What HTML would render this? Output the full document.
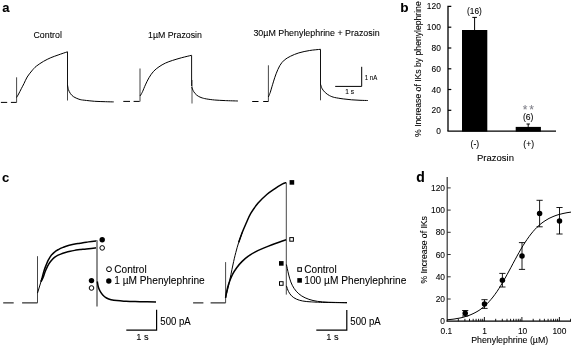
<!DOCTYPE html>
<html><head><meta charset="utf-8"><title>Figure</title>
<style>
html,body{margin:0;padding:0;background:#fff;}
svg{display:block;font-family:"Liberation Sans",Arial,sans-serif;fill:#000;}
.t{fill:none;stroke:#000;stroke-width:1.0;stroke-linejoin:round;stroke-linecap:butt}
.k{fill:none;stroke:#000;stroke-width:1.5;stroke-linejoin:round}
.s{fill:none;stroke:#333;stroke-width:0.9}
.g{fill:none;stroke:#777;stroke-width:1}
.ax{fill:none;stroke:#000;stroke-width:1}
.b{font-weight:bold;font-size:13.5px}
text{stroke:#000;stroke-width:0.08px}
</style></head><body>
<svg width="571" height="347" viewBox="0 0 571 347">
<rect width="571" height="347" fill="#fff"/>

<text class="b" x="2.2" y="12" style="font-size:13px">a</text>
<text class="b" x="400.3" y="11.6" style="font-size:13.6px">b</text>
<text class="b" x="1.9" y="181.7" style="font-size:13px">c</text>
<text class="b" x="416.2" y="182.3" style="font-size:14px">d</text>
<text x="33.5" y="37.5" font-size="8.8">Control</text>
<text x="148" y="37.6" font-size="8.8">1µM Prazosin</text>
<text x="253.4" y="35.7" font-size="8.9">30µM Phenylephrine + Prazosin</text>
<path class="t" d="M0.9,102.4H7.2M10.9,102.4H16.6"/>
<path class="s" d="M16.6,77.3V102.4"/>
<path class="t" d="M16.6,97.5C16.9,96.9 17.8,95.5 18.6,94.0C19.4,92.5 20.4,90.5 21.3,88.7C22.2,87.0 23.0,85.5 24.0,83.5C25.0,81.5 25.9,79.1 27.2,77.0C28.5,74.9 30.3,72.7 31.8,70.9C33.3,69.1 34.3,67.8 36.3,66.2C38.3,64.6 41.2,62.7 43.6,61.3C46.0,59.9 48.4,58.8 50.8,57.7C53.2,56.7 55.3,56.0 58.1,55.0C60.9,54.0 65.9,52.3 67.5,51.8"/>
<path class="s" style="stroke:#111;stroke-width:1" d="M67.5,51.8V85.5"/>
<path class="s" d="M67.5,85V100.5"/>
<path class="t" d="M67.5,85.0C67.7,85.8 67.9,88.0 68.4,89.5C68.9,91.0 69.6,92.5 70.5,93.7C71.4,94.9 72.3,95.9 73.7,96.8C75.1,97.7 77.2,98.6 78.9,99.2C80.7,99.8 81.6,99.9 84.2,100.2C86.8,100.5 91.2,101.0 94.7,101.3C98.2,101.5 102.1,101.6 105.3,101.7C108.5,101.8 112.3,101.9 113.7,101.9"/>
<path class="t" d="M123.3,101.4H130M133.6,101.4H140"/>
<path class="g" style="stroke-width:2;stroke:#a0a0a0" d="M140,68.6V101.4"/>
<path class="t" d="M140.0,96.0C140.2,95.7 140.9,94.8 141.3,94.0C141.8,93.2 142.0,92.8 142.7,91.3C143.4,89.8 144.3,87.2 145.4,84.9C146.5,82.6 147.6,80.0 149.0,77.7C150.4,75.4 151.9,73.1 153.6,71.3C155.3,69.5 157.0,68.2 159.0,66.8C161.0,65.4 163.1,64.2 165.4,63.1C167.7,62.0 169.9,61.3 172.6,60.4C175.3,59.5 178.5,58.6 181.7,57.7C184.8,56.9 189.9,55.7 191.5,55.3"/>
<path class="g" style="stroke-width:2;stroke:#a8a8a8" d="M192,80V103.6"/>
<path class="s" style="stroke:#111;stroke-width:1" d="M191.6,55.3V86"/>
<path class="t" d="M191.7,87.0C192.0,87.8 192.8,90.2 193.7,91.6C194.5,93.0 195.6,94.2 196.8,95.2C198.0,96.2 199.4,96.9 201.0,97.5C202.6,98.1 204.0,98.5 206.3,98.9C208.6,99.3 211.5,99.7 214.7,100.0C217.9,100.3 221.4,100.4 225.3,100.6C229.2,100.8 235.8,100.9 237.9,101.0"/>
<path class="t" d="M252.2,101.5H258.5M263.2,101.5H268.4"/>
<path class="s" d="M268.4,65.3V101.5"/>
<path class="t" d="M268.4,97.0C268.6,96.5 269.1,95.3 269.5,94.3C269.9,93.3 270.1,93.1 270.7,91.0C271.3,88.9 272.5,84.8 273.4,81.9C274.3,79.0 275.0,76.5 276.1,73.8C277.2,71.1 278.4,67.9 279.8,65.6C281.2,63.3 282.5,61.7 284.3,60.1C286.1,58.5 288.2,57.4 290.6,56.2C293.0,55.0 295.6,53.9 298.8,52.9C302.0,51.9 306.1,51.1 309.7,50.5C313.3,49.9 318.7,49.5 320.5,49.3"/>
<path class="s" style="stroke:#111;stroke-width:1" d="M320.5,49.3V85"/>
<path class="s" d="M320.5,84V100.3"/>
<path class="t" d="M320.5,84.2C320.8,85.0 321.4,87.4 322.2,88.8C323.0,90.2 324.1,91.5 325.3,92.6C326.5,93.7 327.9,94.8 329.5,95.6C331.1,96.4 332.4,97.0 334.7,97.5C337.0,98.0 340.4,98.5 343.2,98.9C346.0,99.3 348.8,99.6 351.6,99.8C354.4,100.0 357.3,100.2 360.0,100.3C362.7,100.4 366.5,100.5 367.8,100.5"/>
<path class="ax" d="M335.2,86.4H361.7V66.8"/>
<text x="364.7" y="79.7" font-size="6.6" textLength="12.5" lengthAdjust="spacingAndGlyphs">1 nA</text>
<text x="345.3" y="93.8" font-size="6.6">1 s</text>
<path class="ax" style="stroke-width:1.3" d="M451.3,6.4H448V131.1"/>
<path class="ax" style="stroke-width:1.3" d="M447.4,131.1H556"/>
<text x="440.8" y="134.1" font-size="8.4" text-anchor="end">0</text>
<path class="ax" style="stroke-width:1.2" d="M448,110.3H451.3"/>
<text x="440.8" y="113.3" font-size="8.4" text-anchor="end">20</text>
<path class="ax" style="stroke-width:1.2" d="M448,89.5H451.3"/>
<text x="440.8" y="92.5" font-size="8.4" text-anchor="end">40</text>
<path class="ax" style="stroke-width:1.2" d="M448,68.8H451.3"/>
<text x="440.8" y="71.8" font-size="8.4" text-anchor="end">60</text>
<path class="ax" style="stroke-width:1.2" d="M448,48.0H451.3"/>
<text x="440.8" y="51.0" font-size="8.4" text-anchor="end">80</text>
<path class="ax" style="stroke-width:1.2" d="M448,27.2H451.3"/>
<text x="440.8" y="30.2" font-size="8.4" text-anchor="end">100</text>
<text x="440.8" y="9.4" font-size="8.4" text-anchor="end">120</text>
<text transform="translate(421.3,136.9) rotate(-90)" font-size="8.6" textLength="135.6" lengthAdjust="spacingAndGlyphs">% Increase of IKs by phenylephrine</text>
<rect x="462" y="30" width="25.3" height="101.6"/>
<path class="ax" d="M474.6,30V17.4M472.3,17.4H476.9"/>
<text x="474.4" y="13.6" font-size="8.3" text-anchor="middle">(16)</text>
<rect x="515.7" y="126.9" width="25.2" height="4.7"/>
<path class="ax" d="M528.2,126.9V124M526.5,124H529.9"/>
<text x="528.2" y="119.7" font-size="8.6" text-anchor="middle">(6)</text>
<text x="529.3" y="113.8" font-size="12" letter-spacing="2" text-anchor="middle" fill="#80808a" style="stroke:#80808a">**</text>
<text x="474.9" y="147.4" font-size="8.6" text-anchor="middle">(-)</text>
<text x="528.7" y="147.4" font-size="8.6" text-anchor="middle">(+)</text>
<text x="495.5" y="160.9" font-size="9.5" text-anchor="middle">Prazosin</text>
<path class="t" d="M3.2,302.9H13.7M22.1,302.9H37.5"/>
<path class="s" d="M37.5,256.2V302.9"/>
<path class="t" d="M37.5,293.1L42.1,278"/>
<path class="k" d="M41.0,281.6C41.2,281.0 41.6,279.7 42.1,278.0C42.6,276.3 43.1,273.5 43.8,271.4C44.5,269.2 45.3,267.0 46.1,265.1C46.9,263.2 47.5,261.5 48.4,259.9C49.3,258.3 50.2,256.6 51.3,255.3C52.4,254.0 53.5,252.8 54.8,251.8C56.0,250.8 57.4,250.1 58.8,249.3C60.2,248.5 61.7,247.9 63.4,247.2C65.1,246.5 67.3,245.8 69.2,245.3C71.1,244.8 73.1,244.3 74.9,244.0C76.7,243.7 78.1,243.5 80.0,243.2C81.9,242.9 83.5,242.6 86.3,242.2C89.1,241.8 95.2,240.9 97.0,240.7"/>
<path class="k" d="M41.0,281.6C41.3,281.0 42.2,279.6 42.9,278.0C43.6,276.4 44.3,273.9 45.0,272.0C45.7,270.1 46.5,268.3 47.3,266.8C48.1,265.3 48.7,264.1 49.6,262.8C50.5,261.6 51.5,260.4 52.5,259.3C53.5,258.2 54.6,257.2 55.9,256.4C57.1,255.6 58.5,255.0 60.0,254.4C61.5,253.8 62.9,253.2 64.6,252.7C66.3,252.2 68.4,251.6 70.3,251.2C72.2,250.8 74.5,250.4 76.1,250.1C77.7,249.8 78.3,249.7 80.0,249.5C81.7,249.3 83.5,249.2 86.3,248.9C89.1,248.6 95.2,248.0 97.0,247.8"/>
<path class="g" style="stroke-width:2;stroke:#8e8e8e" d="M97,240.3V306.6"/>
<path class="k" style="stroke-width:1.5" d="M97.3,281.5C97.5,282.5 97.9,285.7 98.4,287.3C98.9,288.9 99.4,290.0 100.2,291.3C101.0,292.6 102.0,294.2 103.0,295.3C104.0,296.4 105.2,297.3 106.5,298.0C107.8,298.7 109.4,299.3 111.1,299.7C112.8,300.1 114.8,300.4 116.9,300.6C119.0,300.9 121.6,301.1 123.8,301.2C126.0,301.3 127.3,301.4 130.0,301.5C132.7,301.6 135.7,301.6 140.0,301.7C144.3,301.8 153.3,301.9 156.0,301.9"/>
<circle cx="102.2" cy="239.8" r="2.7"/>
<circle cx="102.2" cy="247.9" r="2.3" fill="#fff" stroke="#000" stroke-width="1"/>
<circle cx="91.5" cy="280.6" r="2.7"/>
<circle cx="91.5" cy="288" r="2.3" fill="#fff" stroke="#000" stroke-width="1"/>
<circle cx="109" cy="269.2" r="2.45" fill="#fff" stroke="#000" stroke-width="1"/>
<circle cx="108.8" cy="281" r="2.7"/>
<text x="114.3" y="272.8" font-size="10.2" textLength="32.4" lengthAdjust="spacingAndGlyphs">Control</text>
<text x="114.3" y="284.2" font-size="10.2" textLength="90.4" lengthAdjust="spacingAndGlyphs">1 µM Phenylephrine</text>
<path class="ax" style="stroke-width:1.2" d="M126.3,330.1H156.6V309.8"/>
<text x="160.3" y="324.6" font-size="10.4" textLength="30.4" lengthAdjust="spacingAndGlyphs">500 pA</text>
<text x="136.2" y="339.5" font-size="9.8" textLength="12.4" lengthAdjust="spacingAndGlyphs">1 s</text>
<path class="t" d="M193.1,302.9H203.4M210.6,302.9H225.6"/>
<path class="s" d="M225.6,262.1V302.9"/>
<path class="t" style="stroke-width:1" d="M225.6,297.8C226.2,295.4 227.8,289.2 229.0,283.7C230.2,278.2 231.8,270.2 232.9,265.0C234.0,259.8 234.8,256.3 235.8,252.5C236.8,248.7 237.6,245.8 238.7,242.4C239.8,239.0 241.7,234.0 242.3,232.3"/>
<path class="k" d="M238.7,242.4C239.3,240.7 241.0,235.7 242.3,232.3C243.6,228.9 245.2,225.4 246.6,222.2C248.0,219.0 249.0,216.4 250.9,213.2C252.8,210.0 255.5,206.2 258.1,203.1C260.8,200.0 263.9,197.0 266.8,194.5C269.7,192.0 272.8,190.1 275.4,188.3C278.0,186.5 280.8,184.9 282.6,183.9C284.4,182.9 285.6,182.8 286.2,182.6"/>
<path class="k" style="stroke-width:1.5" d="M225.6,297.8C225.8,296.5 226.4,292.4 227.0,290.0C227.6,287.6 228.0,285.9 228.9,283.3C229.8,280.7 231.1,277.2 232.4,274.6C233.7,272.0 235.1,269.9 236.7,267.7C238.3,265.5 240.0,263.5 241.9,261.6C243.8,259.7 245.8,258.0 248.0,256.4C250.2,254.8 252.3,253.5 254.9,252.1C257.5,250.7 260.6,249.3 263.5,248.1C266.4,246.9 269.4,245.7 272.0,244.7C274.6,243.7 276.6,243.0 279.0,242.2C281.4,241.4 285.0,240.2 286.2,239.8"/>
<path class="s" d="M286.3,182.6V294.6"/>
<path class="t" d="M286.4,264.5C286.8,266.1 287.8,271.1 288.5,274.0C289.2,276.9 289.9,279.5 290.8,281.9C291.7,284.3 292.7,286.3 294.0,288.3C295.3,290.3 296.9,292.2 298.8,293.8C300.7,295.4 302.7,296.7 305.1,297.8C307.5,298.9 310.1,299.8 313.0,300.5C315.9,301.2 319.0,301.6 322.5,301.9C326.0,302.2 329.9,302.3 334.0,302.4C338.1,302.5 344.8,302.6 347.0,302.6"/>
<path class="t" d="M286.4,285.9C286.8,286.8 287.6,289.8 288.5,291.5C289.4,293.2 290.3,294.6 291.6,295.9C292.9,297.2 294.5,298.2 296.4,299.1C298.2,300.0 300.2,300.5 302.7,301.0C305.2,301.5 308.2,301.7 311.5,301.9C314.8,302.1 316.6,302.2 322.5,302.4C328.4,302.5 342.9,302.7 347.0,302.8"/>
<rect x="289.6" y="180.1" width="4.6" height="4.6"/>
<rect x="289.8" y="237.6" width="3.6" height="3.6" fill="#fff" stroke="#000" stroke-width="1"/>
<rect x="279.0" y="261.1" width="4.6" height="4.6"/>
<rect x="279.5" y="281.7" width="3.6" height="3.6" fill="#fff" stroke="#000" stroke-width="1"/>
<rect x="297.8" y="267.7" width="3.6" height="3.6" fill="#fff" stroke="#000" stroke-width="1"/>
<rect x="297.3" y="278.1" width="4.6" height="4.6"/>
<text x="304.3" y="272.8" font-size="10.2" textLength="32.4" lengthAdjust="spacingAndGlyphs">Control</text>
<text x="304.3" y="284.4" font-size="10.2" textLength="102" lengthAdjust="spacingAndGlyphs">100 µM Phenylephrine</text>
<path class="ax" style="stroke-width:1.2" d="M316.3,330.1H346.8V310"/>
<text x="350.3" y="324.8" font-size="10.4" textLength="30.4" lengthAdjust="spacingAndGlyphs">500 pA</text>
<text x="326.2" y="339.6" font-size="9.8" textLength="12.4" lengthAdjust="spacingAndGlyphs">1 s</text>
<path class="ax" style="stroke:#333;stroke-width:1.2" d="M447.2,177V321.2"/>
<path class="ax" style="stroke-width:1.2" d="M446.5,321.2H571"/>
<text x="445" y="324.3" font-size="8.4" text-anchor="end">0</text>
<path class="ax" style="stroke:#333" d="M447.0,299.0H450.7"/>
<text x="445" y="302.1" font-size="8.4" text-anchor="end">20</text>
<path class="ax" style="stroke:#333" d="M447.0,276.8H450.7"/>
<text x="445" y="279.9" font-size="8.4" text-anchor="end">40</text>
<path class="ax" style="stroke:#333" d="M447.0,254.5H450.7"/>
<text x="445" y="257.6" font-size="8.4" text-anchor="end">60</text>
<path class="ax" style="stroke:#333" d="M447.0,232.3H450.7"/>
<text x="445" y="235.4" font-size="8.4" text-anchor="end">80</text>
<path class="ax" style="stroke:#333" d="M447.0,210.1H450.7"/>
<text x="445" y="213.2" font-size="8.4" text-anchor="end">100</text>
<path class="ax" style="stroke:#333" d="M447.0,187.9H450.7"/>
<text x="445" y="191.0" font-size="8.4" text-anchor="end">120</text>
<text transform="translate(427.2,283.4) rotate(-90)" font-size="8.6" textLength="67.2" lengthAdjust="spacingAndGlyphs">% Increase of IKs</text>
<path class="ax" style="stroke-width:0.9" d="M458.3,321.2v-2.4M464.9,321.2v-2.4M469.5,321.2v-2.4M473.2,321.2v-2.4M476.1,321.2v-2.4M478.6,321.2v-2.4M480.8,321.2v-2.4M482.7,321.2v-2.4M484.4,321.2v-4.2M495.7,321.2v-2.4M502.3,321.2v-2.4M507.0,321.2v-2.4M510.6,321.2v-2.4M513.6,321.2v-2.4M516.1,321.2v-2.4M518.3,321.2v-2.4M520.2,321.2v-2.4M521.9,321.2v-4.2M533.2,321.2v-2.4M539.8,321.2v-2.4M544.4,321.2v-2.4M548.1,321.2v-2.4M551.0,321.2v-2.4M553.5,321.2v-2.4M555.7,321.2v-2.4M557.6,321.2v-2.4M559.4,321.2v-4.2M570.6,321.2v-2.4"/>
<text x="446.3" y="334.2" font-size="8.4" text-anchor="middle">0.1</text>
<text x="484.6" y="334.2" font-size="8.4" text-anchor="middle">1</text>
<text x="522.6" y="334.2" font-size="8.4" text-anchor="middle">10</text>
<text x="559.4" y="334.2" font-size="8.4" text-anchor="middle">100</text>
<text x="509.7" y="342.8" font-size="8.8" text-anchor="middle">Phenylephrine (µM)</text>
<polyline class="t" style="stroke-width:1" points="447.0,319.8 449.0,319.6 451.0,319.4 453.0,319.2 455.0,318.9 457.0,318.5 459.0,318.2 461.0,317.8 463.0,317.3 465.0,316.7 467.0,316.1 469.0,315.4 471.0,314.6 473.0,313.7 475.0,312.7 477.0,311.6 479.0,310.4 481.0,309.0 483.0,307.4 485.0,305.7 487.0,303.8 489.0,301.7 491.0,299.4 493.0,297.0 495.0,294.3 497.0,291.5 499.0,288.4 501.0,285.2 503.0,281.8 505.0,278.3 507.0,274.7 509.0,271.0 511.0,267.3 513.0,263.5 515.0,259.8 517.0,256.1 519.0,252.5 521.0,249.0 523.0,245.7 525.0,242.5 527.0,239.5 529.0,236.7 531.0,234.0 533.0,231.6 535.0,229.3 537.0,227.3 539.0,225.4 541.0,223.7 543.0,222.2 545.0,220.8 547.0,219.6 549.0,218.4 551.0,217.5 553.0,216.6 555.0,215.8 557.0,215.1 559.0,214.5 561.0,214.0 563.0,213.5 565.0,213.1 567.0,212.7 569.0,212.4 571.0,212.1"/>
<path class="ax" style="stroke-width:0.9" d="M465.2,310.5V316M462.09999999999997,310.5h6.2M462.09999999999997,316h6.2"/>
<circle cx="465.2" cy="313.3" r="2.75"/>
<path class="ax" style="stroke-width:0.9" d="M484.5,299.7V308.4M481.4,299.7h6.2M481.4,308.4h6.2"/>
<circle cx="484.5" cy="303.9" r="2.75"/>
<path class="ax" style="stroke-width:0.9" d="M502.4,273.4V287M499.29999999999995,273.4h6.2M499.29999999999995,287h6.2"/>
<circle cx="502.4" cy="280.2" r="2.75"/>
<path class="ax" style="stroke-width:0.9" d="M522,242.6V269.4M518.9,242.6h6.2M518.9,269.4h6.2"/>
<circle cx="522" cy="255.9" r="2.75"/>
<path class="ax" style="stroke-width:0.9" d="M539.6,200.3V226.8M536.5,200.3h6.2M536.5,226.8h6.2"/>
<circle cx="539.6" cy="213.5" r="2.75"/>
<path class="ax" style="stroke-width:0.9" d="M559.5,207.5V234M556.4,207.5h6.2M556.4,234h6.2"/>
<circle cx="559.5" cy="221" r="2.75"/>
</svg></body></html>
